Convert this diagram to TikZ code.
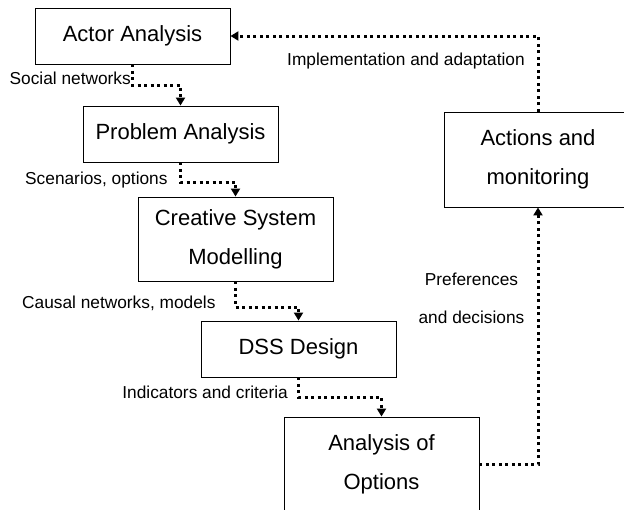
\documentclass[tikz,border=0pt]{standalone}
\usepackage{fontspec}
\setmainfont{Liberation Sans}
\usetikzlibrary{arrows.meta}
\begin{document}
\begin{tikzpicture}[x=1pt,y=-1pt,
  box/.style={draw, line width=0.9pt, inner sep=0pt, align=center,
    font=\fontsize{22}{39}\selectfont},
  lab/.style={inner sep=0pt, align=center, font=\fontsize{17.3}{38}\selectfont},
  conn/.style={line width=3pt, dash pattern=on 3pt off 3.5pt,
    -{Triangle[width=9pt,length=8pt]}}]
\useasboundingbox (0,0) rectangle (624,509);
\clip (0,0) rectangle (624,509);
\node[box, minimum width=195pt, minimum height=56pt] (actor) at (132.5,36) {Actor Analysis};
\node[box, minimum width=195pt, minimum height=56pt] (problem) at (180.5,134) {Problem Analysis};
\node[box, minimum width=195pt, minimum height=84pt] (creative) at (235.5,239) {Creative System\\Modelling};
\node[box, minimum width=195pt, minimum height=56pt] (dss) at (298.5,349) {DSS Design};
\node[box, minimum width=195pt, minimum height=95pt] (options) at (381.5,464.5) {Analysis of\\Options};
\node[box, minimum width=188pt, minimum height=95pt] (actions) at (538,159.5) {Actions and\\monitoring};

\draw[conn] (actor.south) -- ++(0,21) -| (problem.north);
\draw[conn] (problem.south) -- ++(0,20) -| (creative.north);
\draw[conn] (creative.south) -- ++(0,26) -| (dss.north);
\draw[conn] (dss.south) -- ++(0,20) -| (options.north);
\draw[conn] (options.east) -| (actions.south);
\draw[conn] (actions.north) |- (actor.east);

\node[lab, anchor=base east] (l1) at (131,84) {Social networks};
\node[lab, anchor=base west] (l2) at (25,184) {Scenarios, options};
\node[lab, anchor=base west] (l3) at (22,308) {Causal networks, models};
\node[lab, anchor=base east] (l4) at (288,398) {Indicators and criteria};
\node[lab, anchor=base west] (l5) at (287,65) {Implementation and adaptation};
\node[lab] (l6) at (471.5,298) {Preferences\\and decisions};
\end{tikzpicture}
\end{document}
